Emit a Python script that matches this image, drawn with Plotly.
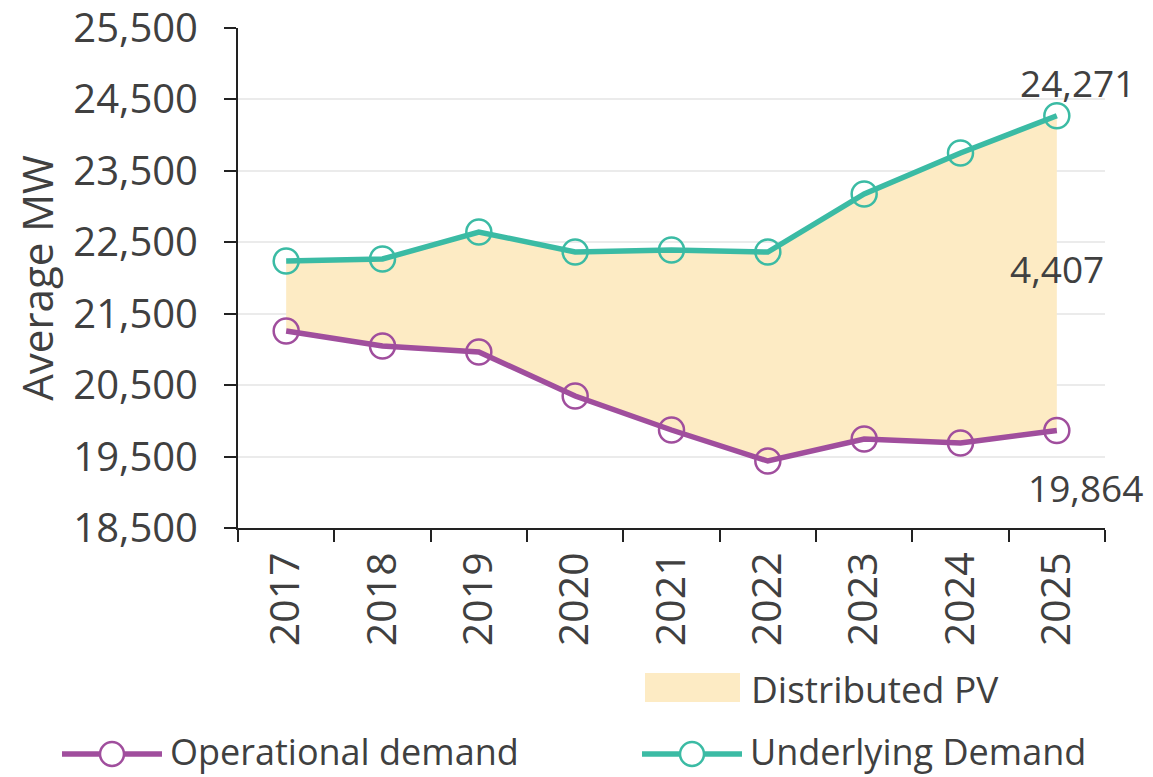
import plotly.graph_objs as go

years = ["2017", "2018", "2019", "2020", "2021", "2022", "2023", "2024", "2025"]
operational = [21258, 21048, 20964, 20348, 19872, 19438, 19746, 19690, 19864]
underlying = [22238, 22266, 22644, 22364, 22392, 22364, 23176, 23750, 24271]
y_ticks = [18500, 19500, 20500, 21500, 22500, 23500, 24500, 25500]

PURPLE = "#A04E9D"
TEAL = "#3BBBA4"
FILL = "#FDEBC4"
TEXT = "#404040"
FONT = "Open Sans"

# the page body adds an 8px margin, so size the figure to fit the window
OFF = 8
W, H = 1153 - OFF, 777 - OFF
L, T = 238 - OFF, 28 - OFF
R, B = W - (1105 - OFF), H - (528 - OFF)
PW, PH = W - L - R, H - T - B


def px_x(sx):
    return (sx - OFF - L) / PW


def px_y(sy):
    return (H - B - (sy - OFF)) / PH


fig = go.Figure()

# shaded band between the two demand series
fig.add_trace(go.Scatter(x=years, y=operational, mode="lines", line={"width": 0},
                         showlegend=False, hoverinfo="skip"))
fig.add_trace(
    go.Scatter(
        x=years, y=underlying, mode="lines", line={"width": 0}, fill="tonexty", fillcolor=FILL,
        name="Distributed PV", showlegend=False, hoverinfo="skip",
    )
)

for name, vals, color in [("Operational demand", operational, PURPLE), ("Underlying Demand", underlying, TEAL)]:
    fig.add_trace(
        go.Scatter(
            x=years, y=vals, mode="lines+markers", name=name, showlegend=False,
            line={"color": color, "width": 5.5},
            marker={"symbol": "circle-open", "size": 25, "color": color, "line": {"width": 2.5, "color": color}},
        )
    )

last = len(years) - 1
last_u, last_o = underlying[-1], operational[-1]
annos = [
    (f"{last_u:,}", last_u, 21, 33),
    (f"{last_u - last_o:,}", (last_u + last_o) / 2, 0, 5),
    (f"{last_o:,}", last_o, 29, -57),
]
for text, y, dx, dy in annos:
    fig.add_annotation(
        x=last, y=y, text=text, showarrow=False, xshift=dx, yshift=dy,
        font={"family": FONT, "size": 37, "color": TEXT},
    )

# custom legend
shapes = []
shapes.append(dict(type="rect", xref="paper", yref="paper", x0=px_x(645), x1=px_x(740),
                   y0=px_y(702), y1=px_y(673), fillcolor=FILL, line={"width": 0}))
fig.add_annotation(xref="paper", yref="paper", x=px_x(749), y=px_y(688), text="Distributed PV",
                   showarrow=False, xanchor="left", yanchor="middle",
                   font={"family": FONT, "size": 37, "color": TEXT})
for x0, name, color in [(62, "Operational demand", PURPLE), (642, "Underlying Demand", TEAL)]:
    shapes.append(dict(type="line", xref="paper", yref="paper", x0=px_x(x0), x1=px_x(x0 + 100),
                       y0=px_y(754), y1=px_y(754), line={"color": color, "width": 5.5}))
    cx, r = x0 + 50, 12
    shapes.append(dict(type="circle", xref="paper", yref="paper", x0=px_x(cx - r), x1=px_x(cx + r),
                       y0=px_y(754 + r), y1=px_y(754 - r), fillcolor="white",
                       line={"color": color, "width": 2.5}))
    fig.add_annotation(xref="paper", yref="paper", x=px_x(x0 + 106), y=px_y(751), text=name,
                       showarrow=False, xanchor="left", yanchor="middle",
                       font={"family": FONT, "size": 36, "color": TEXT})

fig.update_layout(
    width=W, height=H,
    margin={"l": L, "r": R, "t": T, "b": B},
    plot_bgcolor="white", paper_bgcolor="white",
    font={"family": FONT, "color": TEXT},
    shapes=shapes,
    showlegend=False,
)
fig.update_xaxes(
    type="category", tickangle=-90, tickson="boundaries", ticks="outside", ticklen=12,
    tickwidth=2, tickcolor="#222", showline=True, linecolor="#222", linewidth=2,
    showgrid=False, tickfont={"size": 41, "color": TEXT}, range=[-0.5, 8.5], automargin=False,
    ticklabelstandoff=6,
)
fig.update_yaxes(
    range=[18500, 25500], tickvals=y_ticks, ticktext=[f"{v:,}" for v in y_ticks],
    ticks="outside", ticklen=12, tickwidth=2, tickcolor="#222", showline=True,
    linecolor="#222", linewidth=2, gridcolor="#EBEBEB", gridwidth=1.5,
    tickfont={"size": 40, "color": TEXT}, zeroline=False, automargin=False,
    ticklabelstandoff=18, ticklabeloverflow="allow",
    title={"text": "Average MW", "font": {"size": 42, "color": TEXT}, "standoff": 12},
)

fig.write_html("out.html")
